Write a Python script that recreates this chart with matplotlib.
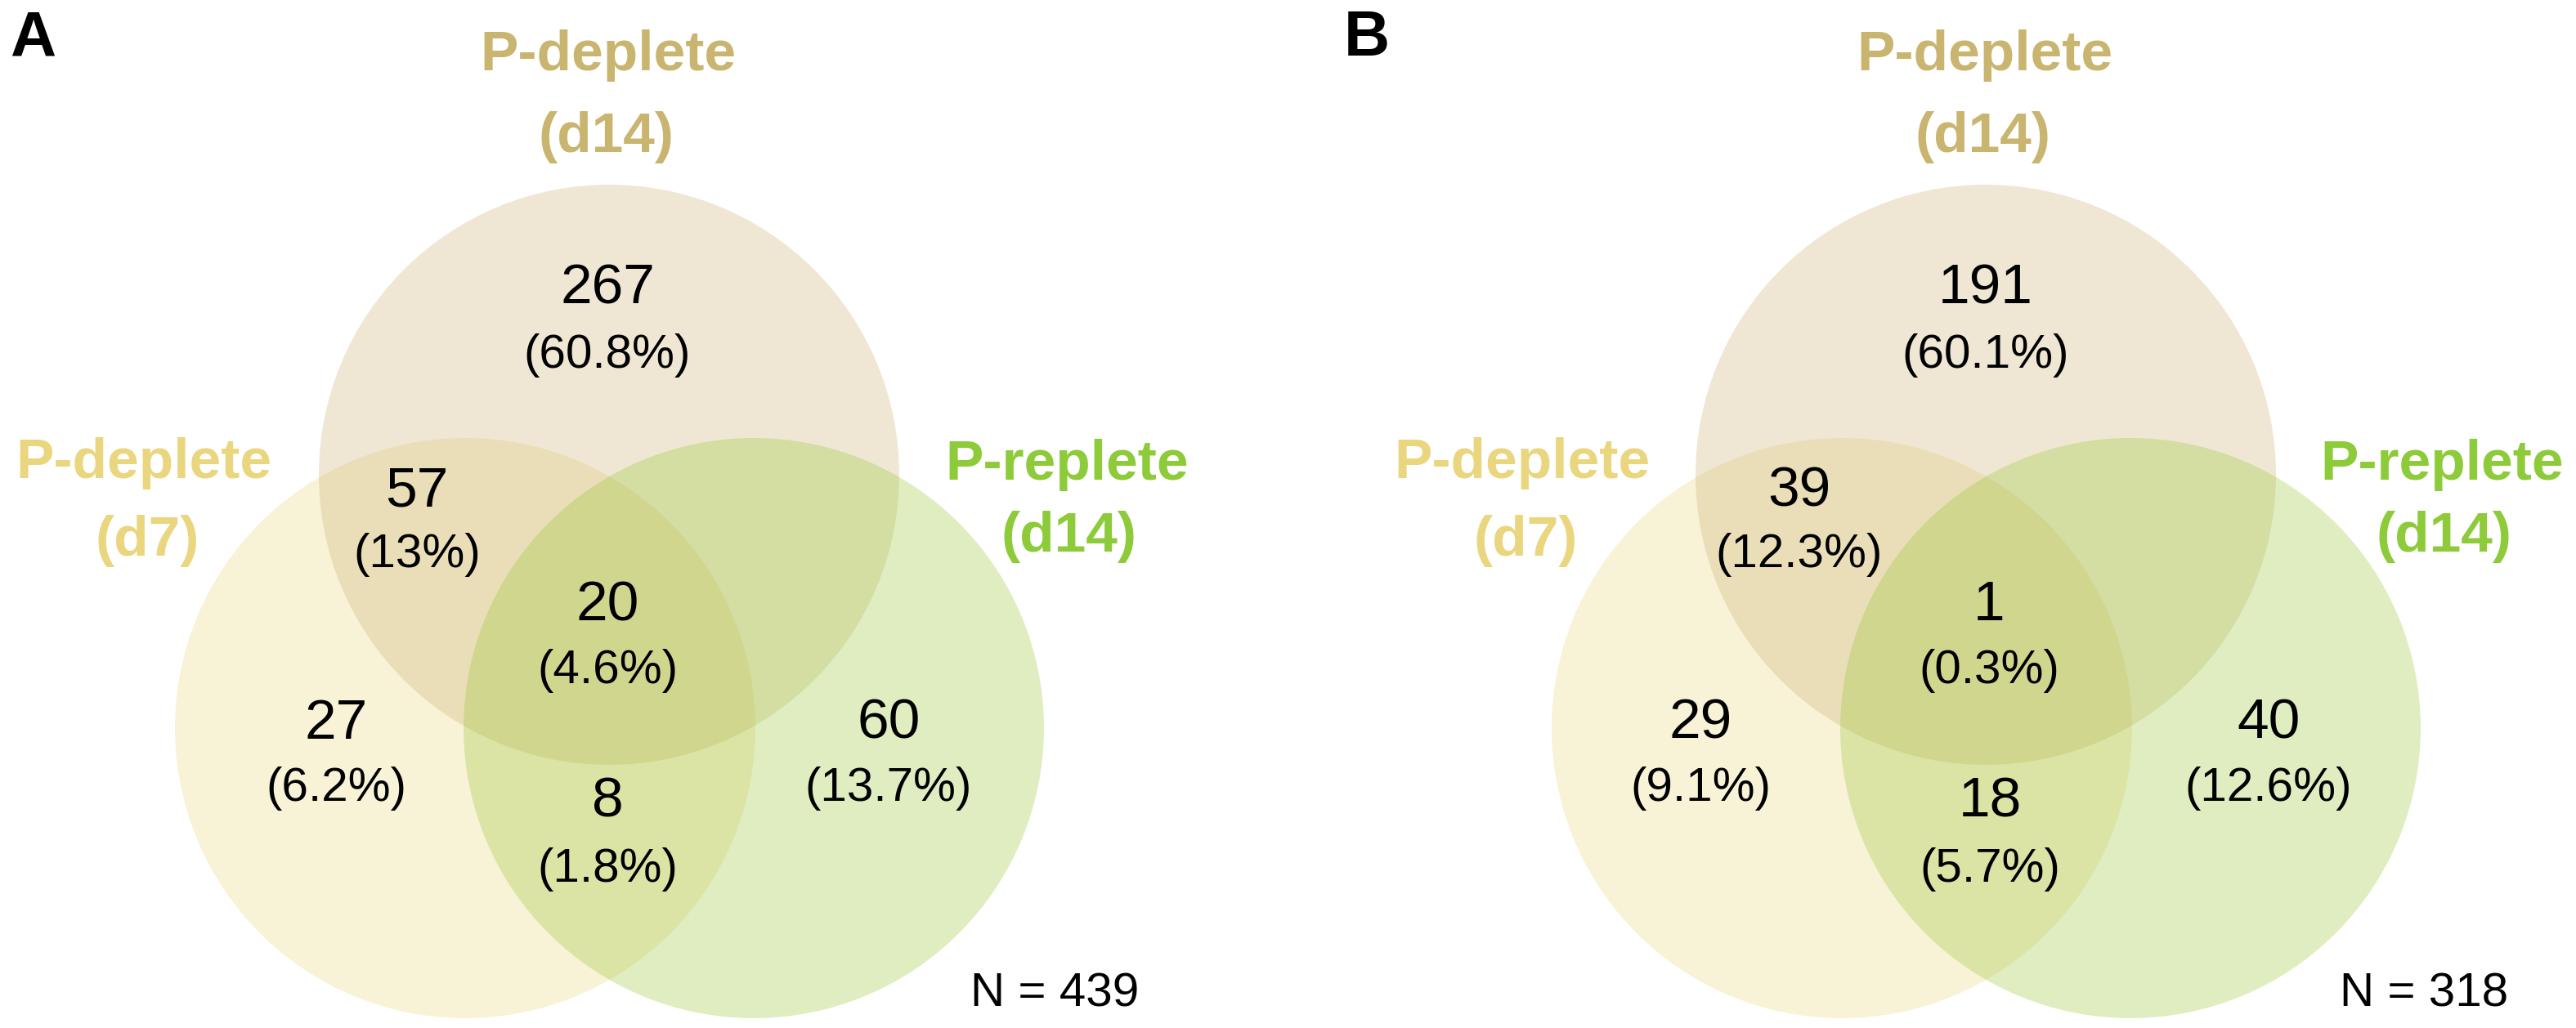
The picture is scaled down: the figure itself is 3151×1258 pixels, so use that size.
import matplotlib
matplotlib.use("Agg")
import matplotlib.pyplot as plt
from matplotlib.patches import Circle

# ---------------- data ----------------
panel_letters = ["A", "B"]
set_top_label = ["P-deplete", "(d14)"]
set_left_label = ["P-deplete", "(d7)"]
set_right_label = ["P-replete", "(d14)"]

# region order: top-only, top&left, all three, left-only, left&right, right-only
counts_A = [267, 57, 20, 27, 8, 60]
pcts_A = ["60.8%", "13%", "4.6%", "6.2%", "1.8%", "13.7%"]
total_A = 439

counts_B = [191, 39, 1, 29, 18, 40]
pcts_B = ["60.1%", "12.3%", "0.3%", "9.1%", "5.7%", "12.6%"]
total_B = 318

# ---------------- style / layout ----------------
W, H = 3151, 1258
col_top = "#CAB273"
col_left = "#EBD47D"
col_right = "#98C630"
lab_top = "#C9B56F"
lab_left = "#EAD67F"
lab_right = "#8DCB3A"
FONT = ["Liberation Sans", "DejaVu Sans"]

fig = plt.figure(figsize=(W / 100, H / 100), dpi=100)
ax = fig.add_axes([0, 0, 1, 1])
ax.set_xlim(0, W)
ax.set_ylim(H, 0)
ax.set_aspect("equal")
ax.axis("off")

R = 355
panels = [
    dict(dx=0, letter_x=12, counts=counts_A, pcts=pcts_A, total=total_A,
         num_x=[743, 510, 743, 411, 743, 1087], n_x=1290,
         left_lab_x=176, right_lab_x=1305),
    dict(dx=1684, letter_x=1644, counts=counts_B, pcts=pcts_B, total=total_B,
         num_x=[745, 517, 749, 396, 750, 1091], n_x=1281,
         left_lab_x=178, right_lab_x=1303),
]
num_base = [372, 619, 759, 904, 1000, 904]
pct_base = [450, 694, 836, 980, 1079, 980]

for p, letter in zip(panels, panel_letters):
    dx = p["dx"]
    cx_top, cy_top = 745 + dx, 581
    cx_left, cy_left = 569 + dx, 891
    cx_right, cy_right = 922 + dx, 891
    ax.add_patch(Circle((cx_left, cy_left), R, facecolor=col_left, alpha=0.3, lw=0))
    ax.add_patch(Circle((cx_top, cy_top), R, facecolor=col_top, alpha=0.3, lw=0))
    ax.add_patch(Circle((cx_right, cy_right), R, facecolor=col_right, alpha=0.3, lw=0))

    # set labels
    ax.text(744 + dx, 86, set_top_label[0], ha="center", va="baseline",
            fontsize=50, fontweight="bold", color=lab_top, family=FONT)
    ax.text(742 + dx, 186, set_top_label[1], ha="center", va="baseline",
            fontsize=50, fontweight="bold", color=lab_top, family=FONT)
    ax.text(p["left_lab_x"] + dx, 585, set_left_label[0], ha="center", va="baseline",
            fontsize=50, fontweight="bold", color=lab_left, family=FONT)
    ax.text(p["left_lab_x"] + 4 + dx, 680, set_left_label[1], ha="center", va="baseline",
            fontsize=50, fontweight="bold", color=lab_left, family=FONT)
    ax.text(p["right_lab_x"] + dx, 587, set_right_label[0], ha="center", va="baseline",
            fontsize=50, fontweight="bold", color=lab_right, family=FONT)
    ax.text(p["right_lab_x"] + 3 + dx, 675, set_right_label[1], ha="center", va="baseline",
            fontsize=50, fontweight="bold", color=lab_right, family=FONT)

    # region counts
    for x, yb, yp, c, pc in zip(p["num_x"], num_base, pct_base, p["counts"], p["pcts"]):
        ax.text(x + dx, yb, str(c), ha="center", va="baseline",
                fontsize=50, color="black", family=FONT)
        ax.text(x + dx, yp, f"({pc})", ha="center", va="baseline",
                fontsize=42, color="black", family=FONT)

    ax.text(p["n_x"] + dx, 1232, f"N = {p['total']}", ha="center", va="baseline",
            fontsize=42, color="black", family=FONT)

    ax.text(p["letter_x"], 68, letter, ha="left", va="baseline",
            fontsize=56, fontweight="bold", color="black", family=FONT)

fig.savefig("out.png", dpi=100, facecolor="white")
